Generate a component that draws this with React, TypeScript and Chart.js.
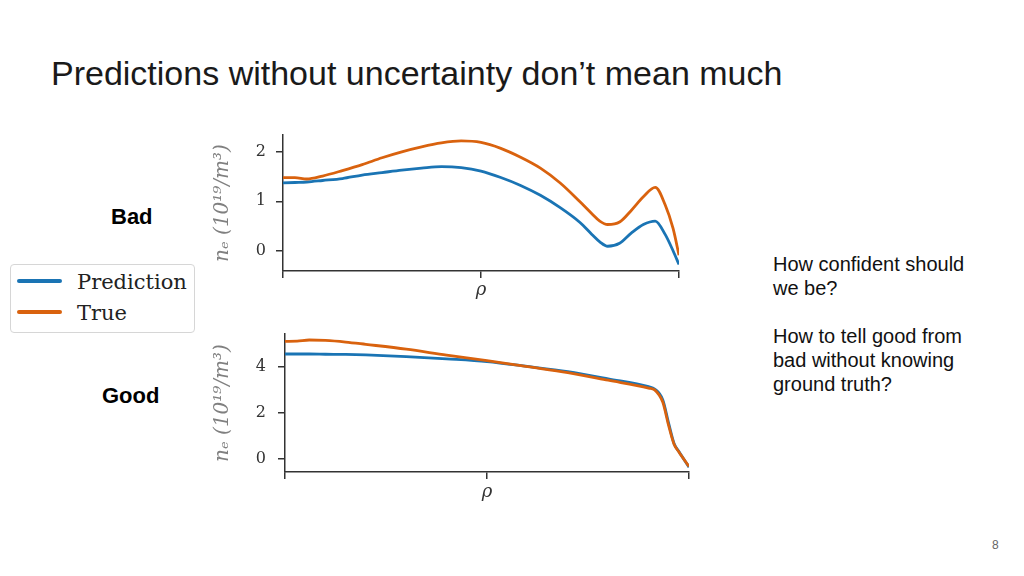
import React, { useEffect, useRef } from "react";
import { Chart, registerables } from "chart.js";

Chart.register(...registerables);

// ---------- data ----------
const slideTitle = "Predictions without uncertainty don’t mean much";
const seriesNames = ["Prediction", "True"];
const caseLabels = ["Bad", "Good"];
const sideText = "How confident should\nwe be?\n\nHow to tell good from\nbad without knowing\nground truth?";
const pageNumber = "8";
const yAxisTitle = "nₑ (10¹⁹/m³)";
const xAxisTitle = "ρ";

const badRho = [0, 0.03, 0.06, 0.1, 0.15, 0.2, 0.25, 0.3, 0.35, 0.4, 0.45, 0.5, 0.55, 0.6, 0.65, 0.7, 0.75, 0.78, 0.8, 0.82, 0.85, 0.88, 0.91, 0.94, 0.965, 0.985, 1.0];
const badPrediction = [1.37, 1.38, 1.39, 1.42, 1.46, 1.53, 1.58, 1.63, 1.67, 1.7, 1.68, 1.61, 1.48, 1.32, 1.12, 0.87, 0.57, 0.33, 0.18, 0.09, 0.15, 0.36, 0.53, 0.6, 0.33, 0.0, -0.28];
const badTrue = [1.48, 1.48, 1.45, 1.51, 1.62, 1.74, 1.88, 2.0, 2.1, 2.18, 2.22, 2.19, 2.07, 1.89, 1.67, 1.37, 0.99, 0.75, 0.6, 0.53, 0.58, 0.82, 1.09, 1.28, 0.93, 0.45, -0.09];

const goodRho = [0, 0.03, 0.06, 0.1, 0.15, 0.2, 0.3, 0.4, 0.5, 0.6, 0.7, 0.8, 0.9, 0.915, 0.935, 0.95, 0.963, 0.975, 1.0];
const goodPrediction = [4.54, 4.54, 4.54, 4.53, 4.52, 4.5, 4.43, 4.33, 4.21, 4.0, 3.77, 3.46, 3.12, 3.02, 2.55, 1.5, 0.65, 0.3, -0.38];
const goodTrue = [5.09, 5.1, 5.15, 5.13, 5.06, 4.96, 4.75, 4.49, 4.25, 3.99, 3.73, 3.4, 3.06, 2.98, 2.45, 1.4, 0.62, 0.28, -0.35];

const xTicks = [0, 0.5, 1];
const badYTicks = [0, 1, 2];
const goodYTicks = [0, 2, 4];
const badYRange = [-0.41, 2.34];
const goodYRange = [-0.59, 5.41];

// ---------- styles ----------
const BLUE = "#1a74b4";
const ORANGE = "#d9620e";
const AXIS = "#333333";
const SERIF = "'DejaVu Serif', serif";
const SANS = "'Liberation Sans', Arial, sans-serif";

type PanelProps = {
  rho: number[];
  pred: number[];
  truth: number[];
  yTicks: number[];
  yRange: number[];
  left: number;
  top: number;
  width: number;
  height: number;
  yAxisWidth: number;
  xAxisHeight: number;
  padTop: number;
  padRight: number;
  tickPad: number;
  yTitlePad: number;
  xTitlePad: number;
};

const zeroPad = (s: any) => {
  s.paddingTop = 0;
  s.paddingBottom = 0;
  s.paddingLeft = 0;
  s.paddingRight = 0;
};

function Panel(p: PanelProps) {
  const ref = useRef<HTMLCanvasElement>(null);
  useEffect(() => {
    if (!ref.current) return;
    const pts = (ys: number[]) => p.rho.map((x, i) => ({ x, y: ys[i] }));
    const chart = new Chart(ref.current, {
      type: "line",
      data: {
        datasets: [
          {
            label: seriesNames[1],
            data: pts(p.truth),
            borderColor: ORANGE,
            borderWidth: 2.8,
            pointRadius: 0,
            cubicInterpolationMode: "monotone",
            fill: false,
          },
          {
            label: seriesNames[0],
            data: pts(p.pred),
            borderColor: BLUE,
            borderWidth: 2.8,
            pointRadius: 0,
            cubicInterpolationMode: "monotone",
            fill: false,
          },
        ],
      },
      options: {
        responsive: false,
        maintainAspectRatio: false,
        animation: false,
        layout: { padding: { top: p.padTop, right: p.padRight, left: 0, bottom: 0 } },
        plugins: { legend: { display: false }, tooltip: { enabled: false } },
        scales: {
          x: {
            type: "linear",
            min: 0,
            max: 1,
            afterBuildTicks: (s: any) => {
              s.ticks = xTicks.map((v) => ({ value: v }));
            },
            afterFit: (s: any) => {
              s.height = p.xAxisHeight;
              zeroPad(s);
            },
            ticks: { callback: () => "", padding: 0 },
            grid: { drawOnChartArea: false, drawTicks: true, tickLength: 7, color: AXIS, lineWidth: 1.5 },
            border: { display: true, color: AXIS, width: 1.5 },
            title: {
              display: true,
              text: xAxisTitle,
              color: "#333",
              font: { family: SERIF, size: 18, style: "italic" },
              padding: { top: 0, bottom: p.xTitlePad },
            },
          },
          y: {
            type: "linear",
            min: p.yRange[0],
            max: p.yRange[1],
            afterBuildTicks: (s: any) => {
              s.ticks = p.yTicks.map((v) => ({ value: v }));
            },
            afterFit: (s: any) => {
              s.width = p.yAxisWidth;
              zeroPad(s);
            },
            ticks: { padding: p.tickPad, color: "#333", font: { family: SERIF, size: 16 } },
            grid: { drawOnChartArea: false, drawTicks: true, tickLength: 7, color: AXIS, lineWidth: 1.5 },
            border: { display: true, color: AXIS, width: 1.5 },
            title: {
              display: true,
              text: yAxisTitle,
              color: "#808080",
              font: { family: SERIF, size: 20, style: "italic" },
              padding: { top: p.yTitlePad, bottom: 0 },
            },
          },
        },
      },
    } as any);
    return () => chart.destroy();
  }, []);
  return (
    <canvas
      ref={ref}
      width={p.width}
      height={p.height}
      style={{ position: "absolute", left: p.left, top: p.top, width: p.width, height: p.height }}
    />
  );
}

export default function App() {
  const abs = (l: number, t: number): React.CSSProperties => ({ position: "absolute", left: l, top: t, margin: 0 });
  return (
    <div style={{ position: "absolute", left: 0, top: 0, width: 1024, height: 576, background: "#fff", overflow: "hidden" }}>
      <div style={{ ...abs(51, 56), fontFamily: SANS, fontSize: 34, lineHeight: "34px", color: "#1a1a1a", whiteSpace: "nowrap" }}>
        {slideTitle}
      </div>

      <div style={{ ...abs(111, 206), fontFamily: SANS, fontWeight: "bold", fontSize: 22, lineHeight: "22px", color: "#000" }}>
        {caseLabels[0]}
      </div>
      <div style={{ ...abs(102, 385), fontFamily: SANS, fontWeight: "bold", fontSize: 22, lineHeight: "22px", color: "#000" }}>
        {caseLabels[1]}
      </div>

      <div
        style={{
          ...abs(773, 252),
          fontFamily: SANS,
          fontSize: 20,
          lineHeight: "24px",
          color: "#111",
          whiteSpace: "pre-line",
        }}
      >
        {sideText}
      </div>

      <div style={{ ...abs(992, 539), fontFamily: SANS, fontSize: 12, lineHeight: "12px", color: "#666" }}>{pageNumber}</div>

      {/* legend */}
      <div
        style={{
          position: "absolute",
          left: 10,
          top: 264,
          width: 183,
          height: 67,
          border: "1.5px solid #d6d6d6",
          borderRadius: 4,
          background: "#fff",
        }}
      />
      {[BLUE, ORANGE].map((c, i) => (
        <div
          key={"sw" + i}
          style={{ position: "absolute", left: 17, top: 279 + i * 31, width: 45, height: 4, borderRadius: 2, background: c }}
        />
      ))}
      {seriesNames.map((n, i) => (
        <div
          key={"ln" + i}
          style={{ ...abs(77, 267 + i * 31), fontFamily: SERIF, fontSize: 21, lineHeight: "30px", color: "#222", whiteSpace: "nowrap" }}
        >
          {n}
        </div>
      ))}

      <Panel
        rho={badRho}
        pred={badPrediction}
        truth={badTrue}
        yTicks={badYTicks}
        yRange={badYRange}
        left={200}
        top={125}
        width={500}
        height={180}
        yAxisWidth={83}
        xAxisHeight={34}
        padTop={10}
        padRight={21}
        tickPad={10}
        yTitlePad={11}
        xTitlePad={4}
      />
      <Panel
        rho={goodRho}
        pred={goodPrediction}
        truth={goodTrue}
        yTicks={goodYTicks}
        yRange={goodYRange}
        left={200}
        top={325}
        width={500}
        height={180}
        yAxisWidth={85}
        xAxisHeight={33}
        padTop={9}
        padRight={11}
        tickPad={12}
        yTitlePad={11}
        xTitlePad={2}
      />
    </div>
  );
}
